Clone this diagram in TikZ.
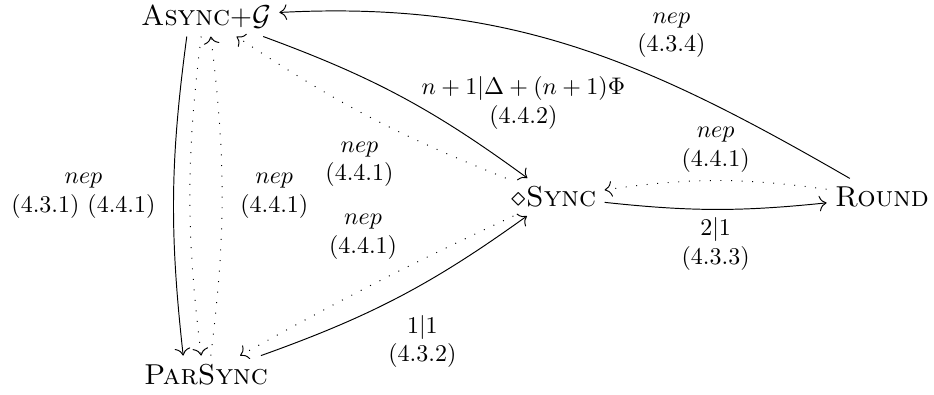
\documentclass[tikz,border=0pt]{standalone}
\usepackage{amsmath, amssymb}
\usetikzlibrary{arrows.meta}

\begin{document}
\begin{tikzpicture}[>={To[scale=1.25]}, every node/.style={align=center}, sys/.style={font=\large}]
\useasboundingbox (0,0) rectangle (13.675,5.769);
\node[sys] (async) at (3.016,5.53) {\textsc{Async}+$\mathcal{G}$};
\node[sys] (parsync) at (3.016,0.285) {\textsc{ParSync}};
\node[sys] (sync) at (8.111,2.884) {$\diamond$\textsc{Sync}};
\node[sys] (round) at (12.914,2.884) {\textsc{Round}};

\path[->] (round) edge[out=150, in=3] node[above right, pos=0.4] {$nep$\\(4.3.4)} (async);
\path[->] (async) edge[bend left=8] node[right, pos=0.55] {$n+1|\Delta+(n+1)\Phi$\\(4.4.2)} (sync);
\path[->, loosely dotted] (sync) edge[bend left=6] node[below left, pos=0.36] {$nep$\\(4.4.1)} (async);

\path[->] (sync) edge[bend right=6] node[below] {$2|1$\\(4.3.3)} (round);
\path[->, loosely dotted] (round) edge[bend right=8] node[above] {$nep$\\(4.4.1)} (sync);

\path[->] (parsync) edge[bend right=8] node[below right, pos=0.42] {$1|1$\\(4.3.2)} (sync);
\path[->, loosely dotted] (sync) edge[bend right=2] node[above left, pos=0.38] {$nep$\\(4.4.1)} (parsync);

\path[->] ([xshift=-8pt]async.south) edge[bend right=7] node[left=4pt] {$nep$\\(4.3.1) (4.4.1)} ([xshift=-9.5pt]parsync.north);
\path[->, loosely dotted] ([xshift=-2pt]async.south) edge[bend right=7] ([xshift=-2pt]parsync.north);
\path[->, loosely dotted] ([xshift=2pt]parsync.north) edge[bend right=7] node[right=4pt] {$nep$\\(4.4.1)} ([xshift=2pt]async.south);
\end{tikzpicture}
\end{document}
